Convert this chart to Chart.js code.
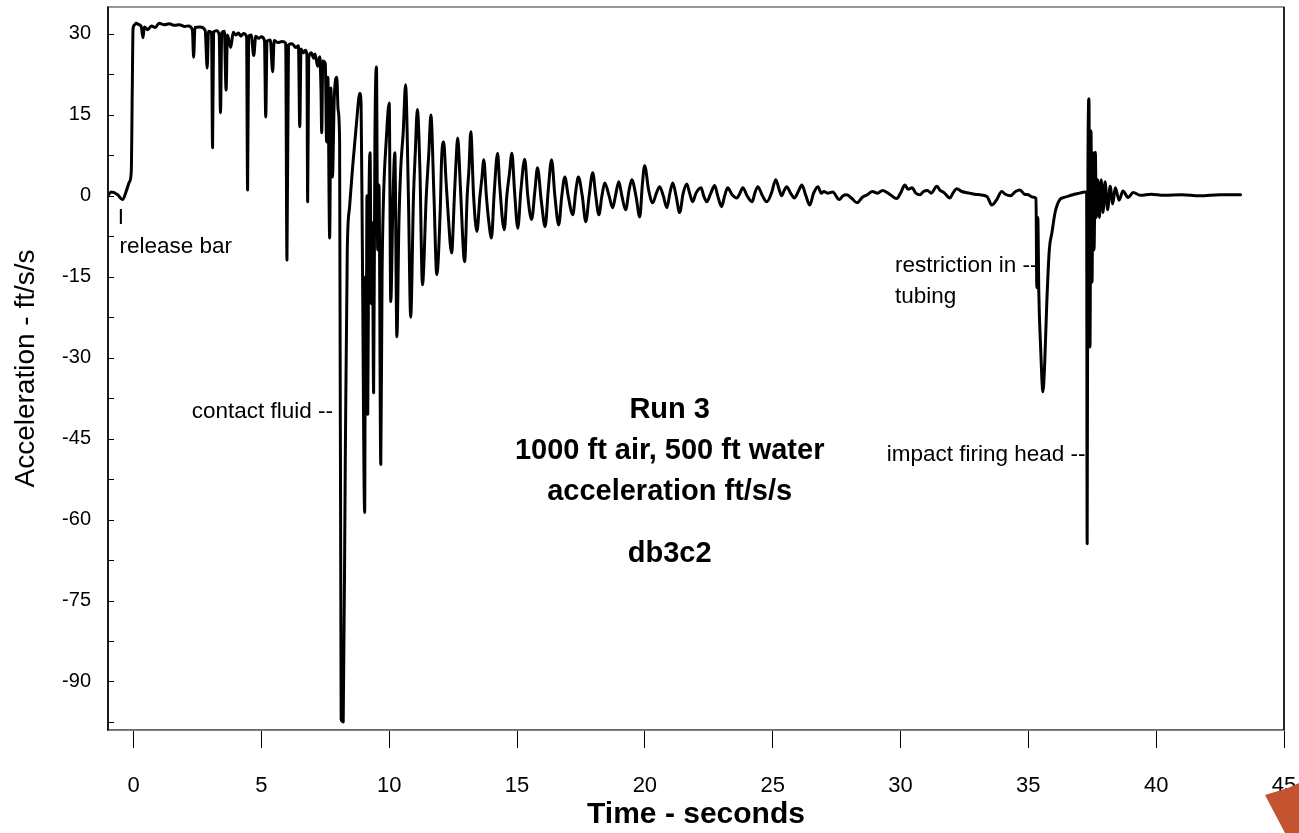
<!DOCTYPE html>
<html>
<head>
<meta charset="utf-8">
<script src="https://cdn.jsdelivr.net/npm/chart.js@4.4.0/dist/chart.umd.min.js"></script>
<style>
  html, body { margin: 0; padding: 0; background: #fff; }
  #wrap { width: 1299px; height: 833px; position: relative; }
</style>
</head>
<body>
<div id="wrap"><canvas id="accelChart"></canvas></div>
<script>
// Define the data
var timeSec = [
  -1.05, -0.86, -0.62, -0.43, -0.27, -0.16, -0.09, -0.05, -0.02, 0.04, 0.1, 0.18, 0.3, 0.37, 0.42, 0.55, 0.7, 0.85,
  1.0, 1.2, 1.4, 1.6, 1.8, 2.0, 2.15, 2.3, 2.35, 2.4, 2.6, 2.8, 2.88, 2.93, 3.05, 3.09, 3.13, 3.25, 3.35, 3.4, 3.45,
  3.55, 3.62, 3.67, 3.8, 3.9, 4.0, 4.1, 4.2, 4.3, 4.42, 4.46, 4.5, 4.6, 4.7, 4.78, 4.9, 5.0, 5.12, 5.17, 5.22, 5.35,
  5.44, 5.5, 5.65, 5.8, 5.95, 6.0, 6.06, 6.2, 6.35, 6.45, 6.5, 6.55, 6.65, 6.72, 6.78, 6.81, 6.85, 6.95, 7.05, 7.1,
  7.2, 7.28, 7.33, 7.36, 7.4, 7.5, 7.55, 7.6, 7.67, 7.72, 7.78, 7.85, 7.95, 8.0, 8.06, 8.12, 8.2, 8.28, 8.36, 8.45,
  8.57, 8.72, 8.85, 8.9, 8.95, 9.04, 9.07, 9.1, 9.13, 9.16, 9.2, 9.25, 9.3, 9.34, 9.39, 9.44, 9.5, 9.55, 9.6, 9.67,
  9.72, 9.78, 9.88, 10.0, 10.06, 10.15, 10.22, 10.3, 10.38, 10.45, 10.55, 10.64, 10.75, 10.84, 10.95, 11.02, 11.1,
  11.2, 11.3, 11.45, 11.55, 11.63, 11.75, 11.86, 12.0, 12.05, 12.13,
  12.22, 12.3, 12.44, 12.55, 12.6, 12.68, 12.78, 12.95, 13.05, 13.12, 13.19, 13.3, 13.43, 13.55, 13.62, 13.7, 13.8,
  13.9, 14.0, 14.1, 14.24, 14.32, 14.5, 14.6, 14.7, 14.8, 14.9, 15.03, 15.15, 15.3, 15.42, 15.57, 15.7, 15.8, 15.95,
  16.1, 16.22, 16.35, 16.48, 16.63, 16.75, 16.87, 17.0, 17.18, 17.3, 17.4, 17.55, 17.69, 17.82, 17.96, 18.08, 18.2,
  18.32, 18.43, 18.6, 18.74, 18.85, 18.98, 19.1, 19.25, 19.38, 19.49, 19.65, 19.8, 19.9, 19.99, 20.15, 20.31, 20.45,
  20.58, 20.72, 20.86, 20.98, 21.09, 21.22, 21.36, 21.5, 21.64, 21.75, 21.87, 22.0, 22.2, 22.3, 22.42, 22.58, 22.73,
  22.85, 23.0, 23.12, 23.24, 23.4, 23.6, 23.72, 23.83, 24.0, 24.2, 24.3, 24.42, 24.6, 24.77, 24.95, 25.12, 25.25,
  25.35, 25.45, 25.55, 25.7, 25.85, 26.0, 26.14, 26.3, 26.45, 26.6, 26.77, 26.9, 27.0, 27.15, 27.35, 27.6, 27.75,
  27.9, 28.1, 28.3, 28.5, 28.7, 28.9, 29.1, 29.3, 29.6, 29.85, 30.0, 30.17, 30.3, 30.45, 30.6, 30.76, 30.9, 31.05,
  31.2, 31.42, 31.55, 31.7, 31.93, 32.05, 32.2, 32.4, 32.7, 32.9, 33.1, 33.38, 33.57, 33.75, 33.96, 34.1, 34.3, 34.5,
  34.67, 34.85, 35.0, 35.15, 35.3, 35.33, 35.37, 35.41, 35.48, 35.57, 35.64, 35.72, 35.82, 35.92, 36.05, 36.23, 36.4,
  36.6, 36.8, 37.0, 37.2, 37.28, 37.3, 37.33, 37.37, 37.41, 37.45, 37.49, 37.53, 37.57, 37.62, 37.66, 37.72, 37.78,
  37.85, 37.92, 38.0, 38.1, 38.2, 38.3, 38.4, 38.55, 38.7, 38.9, 39.1, 39.4, 39.8, 40.3, 41.0, 41.7, 42.5, 43.3
];
var accel = [
  -0.2, 0.7, 0.2, -0.7, 1.1, 2.6, 4.5, 20, 31, 31.7, 32, 31.8, 31.4, 29.3, 31.3, 30.8, 31.5, 31.2,
  32, 31.7, 31.9, 31.6, 31.7, 31.4, 31.5, 30.8, 25.7, 31.2, 31.3, 30.7, 23.7, 30.5, 30.2, 8.9, 30.4, 30.6, 29.8, 15.4, 30.2,
  30.5, 19.6, 29.8, 27.5, 30.3, 29.8, 30.2, 29.6, 30.1, 29.5, 1.1, 29.5, 29.8, 26, 29.6, 29.2, 29.5, 28.8, 14.6, 28.7, 28.9,
  23, 28.8, 28.4, 28.6, 28.3, -11.9, 28, 28.2, 27.5, 27.8, 12.8, 27.2, 26.5, 27, 26.2, -1.1, 25.5, 26.5, 25.5, 26.3,
  24, 25.8, 20, 11.7, 25, 24.5, 10, 22, -7.8, 20, 3.5, 18, 22, 16, 10, -97, -97.5, -50, -10, -2,
  5.4, 13.5, 19, 17, -10, -58.7, -15, -35, 0, -40.5, -5, 8, -20, -5, -36.5, 10, 23.9, -10, 2, -49.8,
  -15, 0, 10, 17.2, -19.6, 0, 8, -26.1, -5, 5, 12, 20.6, 0, -22.5, 0, 8, 16,
  5, -16.5, 0, 8, 15, 0, -14.6, -2, 7, 10,
  3, -3, -10.6, 0, 5, 10.7, 2, -12.2, 0, 5, 11.9, 0, -6.6, 0, 3, 6.7, 0,
  -5, -7.8, 0, 7.9, 2, -6.3, 0, 4, 7.9, 1, -6, 1, 6.8, 0, -4.4, 1, 5.2, -1,
  -5.7, 1, 6.7, 0, -5.4, 0, 3.5, 0, -3.5, 1, 3.5, 0, -4.8, 0, 4.3, 0, -3.5,
  0, 2.4, 0, -2.2, 0, 2.6, 0, -2.6, 1, 3, 0, -3.9, 2, 5.6, 1, -1.3, 0.5,
  1.7, 0, -2.2, 0.5, 2.4, 0, -3.1, 0.5, 2.2, 0.5, -1.1, 0.5, 1.5, 0, -1.1, 0.5, 1.9,
  0, -2, 0, 1.5, 0.3, -0.4, 0.5, 1.5, 0, -1.1, 0.5, 1.7, 0, -1.1, 0.5, 3.0, 1.2,
  0, 1, 1.7, 0.5, -0.4, 0.8, 2.0, 0, -1.7, 0.5, 1.7, 0.5, 0.8, 0.5, 0.7, -0.7, 0,
  0.2, -0.5, -1.3, -0.3, 0.2, 0.8, 0.5, 1, 0.2, -0.5, 0.5, 2, 1.2, 1.5, 0.5, 0.2, 0.8, 1,
  0.5, 1.8, 1, 0.6, -0.4, 0.5, 1.3, 0.8, 0.5, 0.3, 0.2, -0.1, -1.7, -0.8, 0.8, 0.3, 0, 0.8,
  1.1, 0.3, 0.2, -0.2, -0.5, -17, -4, -18, -28, -36.3, -31, -20, -10, -6.9, -3, -0.7, -0.3,
  0, 0.3, 0.5, 0.7, 0.6, -64.5, 4, 18, -28, 12, -16, 8, -10, 8.1, -4, 3, -4,
  3, -3.1, 2.6, -2.6, 1.8, -1.5, 1.5, -0.8, 0.9, -0.3, 0.6, 0.1, 0.3, 0.1, 0.2, 0, 0.2, 0.2
];
var xTicks = [0, 5, 10, 15, 20, 25, 30, 35, 40, 45];
var yTicks = [-97.5, -90, -82.5, -75, -67.5, -60, -52.5, -45, -37.5, -30, -22.5, -15, -7.5, 0, 7.5, 15, 22.5, 30];
var yLabelStep = 15;
// End Defining data

// text notes placed in data units
var notes = [
  { text: 'I', x: -0.5, y: -4, align: 'center' },
  { text: 'release bar', x: -0.55, y: -9.4, align: 'left' },
  { text: 'contact fluid --', x: 7.8, y: -40.1, align: 'right' },
  { text: 'restriction in --', x: 29.78, y: -13, align: 'left' },
  { text: 'tubing', x: 29.78, y: -18.7, align: 'left' },
  { text: 'impact firing head --', x: 29.46, y: -48, align: 'left' },
  { text: 'Run 3', x: 20.97, y: -39.7, align: 'center', bold: true },
  { text: '1000 ft air, 500 ft water', x: 20.97, y: -47.3, align: 'center', bold: true },
  { text: 'acceleration ft/s/s', x: 20.97, y: -54.9, align: 'center', bold: true },
  { text: 'db3c2', x: 20.97, y: -66.4, align: 'center', bold: true }
];

var FONT = "'Liberation Sans', Arial, Helvetica, sans-serif";
Chart.defaults.font.family = FONT;
Chart.defaults.color = '#000';

var points = timeSec.map(function (t, i) { return { x: t, y: accel[i] }; });

var framePlugin = {
  id: 'frame',
  afterDraw: function (chart) {
    var c = chart.ctx, a = chart.chartArea, ys = chart.scales.y, xs = chart.scales.x;
    c.save();
    // box round the plot
    c.strokeStyle = '#777';
    c.lineWidth = 1.5;
    c.strokeRect(a.left, a.top, a.right - a.left, a.bottom - a.top);
    c.strokeStyle = '#000';
    c.beginPath();
    c.moveTo(a.left, a.top); c.lineTo(a.left, a.bottom);
    c.moveTo(a.right, a.top); c.lineTo(a.right, a.bottom);
    c.stroke();
    // y ticks point into the plot
    c.lineWidth = 1;
    c.beginPath();
    ys.ticks.forEach(function (tk) {
      var py = Math.round(ys.getPixelForValue(tk.value)) + 0.5;
      c.moveTo(a.left, py); c.lineTo(a.left + 6, py);
    });
    c.stroke();
    // notes
    notes.forEach(function (n) {
      c.font = (n.bold ? 'bold 29px ' : '22.5px ') + FONT;
      c.fillStyle = '#000';
      c.textAlign = n.align;
      c.textBaseline = 'middle';
      c.fillText(n.text, xs.getPixelForValue(n.x), ys.getPixelForValue(n.y));
    });
    // corner mark
    var w = chart.width, h = chart.height;
    c.fillStyle = '#c4532f';
    c.beginPath();
    c.moveTo(w - 34, h - 38);
    c.lineTo(w - 11, h - 45);
    c.lineTo(w, h - 50);
    c.lineTo(w, h);
    c.lineTo(w - 14, h);
    c.closePath();
    c.fill();
    c.restore();
  }
};

var ctx = document.getElementById('accelChart').getContext('2d');
var accelChart = new Chart(ctx, {
  type: 'line',
  data: {
    datasets: [{
      label: 'db3c2',
      data: points,
      borderColor: '#000',
      borderWidth: 3,
      pointRadius: 0,
      cubicInterpolationMode: 'monotone',
      fill: false,
      borderJoinStyle: 'round',
      borderCapStyle: 'round'
    }]
  },
  options: {
    responsive: true,
    maintainAspectRatio: false,
    animation: false,
    layout: { padding: { top: 7, right: 15, left: 0, bottom: 0 } },
    plugins: { legend: { display: false }, tooltip: { enabled: false } },
    scales: {
      x: {
        type: 'linear',
        min: -1,
        max: 45,
        afterBuildTicks: function (s) { s.ticks = xTicks.map(function (v) { return { value: v }; }); },
        afterFit: function (s) { s.height = 103; s.paddingLeft = 0; s.paddingRight = 0; },
        grid: { drawOnChartArea: false, drawTicks: true, tickLength: 18, color: '#000', lineWidth: 1 },
        border: { display: true, color: '#444', width: 1.5 },
        ticks: { font: { size: 22 }, padding: 25, maxRotation: 0, color: '#000' },
        title: { display: true, text: 'Time - seconds', font: { size: 30, weight: 'bold' }, padding: { top: 0, bottom: 0 } }
      },
      y: {
        type: 'linear',
        min: -99,
        max: 35,
        afterBuildTicks: function (s) { s.ticks = yTicks.map(function (v) { return { value: v }; }); },
        afterFit: function (s) { s.width = 108; s.paddingTop = 0; s.paddingBottom = 0; },
        grid: { display: false, drawTicks: false },
        border: { display: true, color: '#000', width: 1.5 },
        ticks: {
          font: { size: 20 },
          padding: 17,
          color: '#000',
          callback: function (v) { return v % yLabelStep === 0 ? String(v) : ''; }
        },
        title: { display: true, text: 'Acceleration - ft/s/s', font: { size: 28 }, padding: { top: 9, bottom: 0 } }
      }
    }
  },
  plugins: [framePlugin]
});
</script>
</body>
</html>
